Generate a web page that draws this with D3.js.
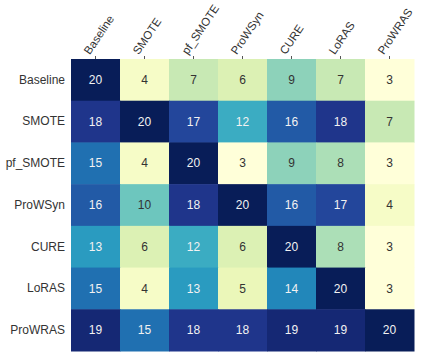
<!DOCTYPE html>
<html>
<head>
<meta charset="utf-8">
<script src="https://cdn.jsdelivr.net/npm/d3@7"></script>
<style>
body { margin: 0; background: #fff; }
text { font-family: "Liberation Sans", Arial, sans-serif; }
</style>
</head>
<body>
<div id="chart"></div>
<script>
var rowNames = ["Baseline", "SMOTE", "pf_SMOTE", "ProWSyn", "CURE", "LoRAS", "ProWRAS"];
var colNames = ["Baseline", "SMOTE", "pf_SMOTE", "ProWSyn", "CURE", "LoRAS", "ProWRAS"];

var rowBaseline = [20, 4, 7, 6, 9, 7, 3];
var rowSMOTE    = [18, 20, 17, 12, 16, 18, 7];
var rowPfSMOTE  = [15, 4, 20, 3, 9, 8, 3];
var rowProWSyn  = [16, 10, 18, 20, 16, 17, 4];
var rowCURE     = [13, 6, 12, 6, 20, 8, 3];
var rowLoRAS    = [15, 4, 13, 5, 14, 20, 3];
var rowProWRAS  = [19, 15, 18, 18, 19, 19, 20];

var matrix = [rowBaseline, rowSMOTE, rowPfSMOTE, rowProWSyn, rowCURE, rowLoRAS, rowProWRAS];

var margin = {top: 59, right: 9, bottom: 5, left: 71},
  width = 423 - margin.left - margin.right,
  height = 356 - margin.top - margin.bottom;

var data = [];
matrix.forEach(function(row, i) {
  row.forEach(function(v, j) {
    data.push({row: rowNames[i], col: colNames[j], value: v});
  });
});

var svg = d3.select("#chart")
.append("svg")
  .attr("width", 423)
  .attr("height", 356)
.append("g")
  .attr("transform", "translate(" + margin.left + "," + margin.top + ")");

var x = d3.scaleBand()
  .range([0, width])
  .domain(colNames);

var y = d3.scaleBand()
  .range([0, height])
  .domain(rowNames);

var myColor = d3.scaleSequential()
  .interpolator(d3.interpolateYlGnBu)
  .domain([3, 20]);

svg.selectAll(".cell")
  .data(data)
  .enter()
  .append("rect")
  .attr("class", "cell")
  .attr("x", function(d) { return x(d.col); })
  .attr("y", function(d) { return y(d.row); })
  .attr("width", x.bandwidth() + 0.5)
  .attr("height", y.bandwidth() + 0.5)
  .style("fill", function(d) { return myColor(d.value); });

svg.selectAll(".val")
  .data(data)
  .enter()
  .append("text")
  .attr("class", "val")
  .attr("x", function(d) { return x(d.col) + x.bandwidth() / 2; })
  .attr("y", function(d) { return y(d.row) + y.bandwidth() / 2; })
  .attr("dy", "0.35em")
  .attr("text-anchor", "middle")
  .style("font-size", "12px")
  .style("fill", function(d) { return d.value > 11 ? "#f2f2f2" : "#333"; })
  .text(function(d) { return d.value; });

// top axis with rotated labels
var xAxis = d3.axisTop(x).tickSize(3).tickPadding(3);
var gx = svg.append("g").attr("class", "x axis").call(xAxis);
gx.select(".domain").remove();
gx.selectAll(".tick line").attr("stroke", "#555");
gx.selectAll("text")
  .style("font-size", "11.5px")
  .style("fill", "#333")
  .style("text-anchor", "start")
  .attr("x", 0)
  .attr("y", 0)
  .attr("dy", "0.35em")
  .attr("transform", "translate(-9,-6) rotate(-56)");

// left axis, no ticks
var yAxis = d3.axisLeft(y).tickSize(0).tickPadding(6);
var gy = svg.append("g").attr("class", "y axis").call(yAxis);
gy.select(".domain").remove();
gy.selectAll("text")
  .style("font-size", "12px")
  .style("fill", "#333");
</script>
</body>
</html>
